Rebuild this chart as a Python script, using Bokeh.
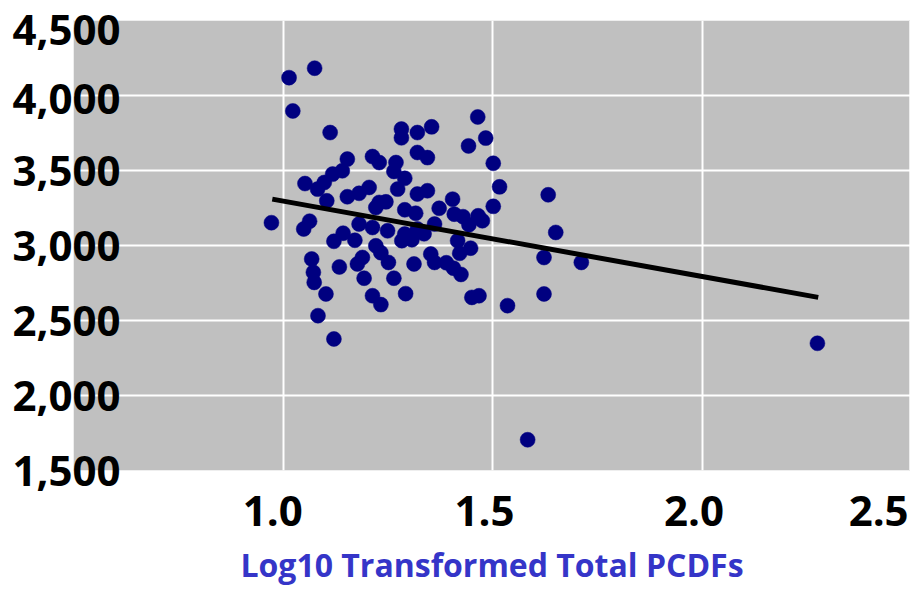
from bokeh.plotting import figure
from bokeh.models import FixedTicker
from bokeh.embed import file_html
from bokeh.resources import INLINE

# ---- data ----
log_pcdf = [0.972, 1.014, 1.075, 1.023, 1.112, 1.052, 1.082, 1.098, 1.118, 1.141,
            1.153, 1.104, 1.153, 1.181, 1.205, 1.063, 1.049, 1.121, 1.143, 1.171,
            1.181, 1.068, 1.072, 1.074, 1.134, 1.102, 1.083, 1.121,
            1.213, 1.229, 1.282, 1.282, 1.320, 1.354, 1.320, 1.344, 1.269, 1.264,
            1.290, 1.273, 1.320, 1.344, 1.229, 1.245, 1.221, 1.290, 1.316, 1.372,
            1.404, 1.408, 1.429, 1.443, 1.465, 1.475, 1.361, 1.213, 1.249, 1.283,
            1.307, 1.336, 1.416, 1.421, 1.447, 1.352, 1.361, 1.312, 1.233, 1.221,
            1.251, 1.189, 1.177, 1.193, 1.264, 1.292, 1.213, 1.233, 1.389, 1.406,
            1.424, 1.450, 1.467, 1.464, 1.483, 1.442, 1.320, 1.290,
            1.501, 1.516, 1.632, 1.501, 1.650, 1.622, 1.711, 1.535, 1.622, 1.583,
            2.274]
response = [3152, 4119, 4182, 3897, 3753, 3413, 3376, 3420, 3476, 3498,
            3576, 3298, 3325, 3348, 3387, 3162, 3110, 3028, 3082, 3035,
            3143, 2910, 2821, 2754, 2857, 2677, 2532, 2377,
            3593, 3553, 3776, 3718, 3753, 3791, 3620, 3586, 3553, 3494,
            3448, 3376, 3343, 3365, 3287, 3291, 3253, 3238, 3215, 3248,
            3309, 3209, 3192, 3138, 3198, 3165, 3143, 3120, 3098, 3032,
            3038, 3078, 3032, 2948, 2982, 2943, 2887, 2877, 2952, 2998,
            2887, 2920, 2877, 2782, 2782, 2679, 2665, 2606, 2885, 2849,
            2807, 2654, 2665, 3857, 3716, 3664, 3110, 3076,
            3548, 3391, 3338, 3261, 3087, 2920, 2887, 2599, 2677, 1705,
            2348]

trend_x = [0.974, 2.276]
trend_y = [3309, 2654]

grid_x_ticks = [1.0, 1.5, 2.0]
x_tick_labels = ["1.0", "1.5", "2.0", "2.5"]
grid_y_ticks = [1500, 2000, 2500, 3000, 3500, 4000, 4500]
y_tick_labels = ["1,500", "2,000", "2,500", "3,000", "3,500", "4,000", "4,500"]
x_label = "Log10 Transformed Total PCDFs"

# where the reference prints its tick labels (the x labels sit slightly left of
# the gridlines, "2.5" is pushed inward at the right edge, the top y labels sit
# a little below their gridlines)
x_label_positions = [0.975, 1.48, 1.98, 2.42]
y_label_positions = [1500, 2000, 2500, 3000, 3500, 3980, 4437]

X_START, X_END = 0.5, 2.496
Y_START, Y_END = 1500, 4500

FONT = "Open Sans"

p = figure(width=910, height=590, output_backend="svg", toolbar_location=None,
           x_range=(X_START, X_END), y_range=(Y_START, Y_END),
           min_border_left=73, min_border_right=0, min_border_top=20,
           min_border_bottom=120)

p.background_fill_color = "#C0C0C0"
p.border_fill_color = "white"
p.outline_line_color = "#EEEEEE"
p.outline_line_width = 1

# grid
p.xgrid.ticker = FixedTicker(ticks=grid_x_ticks)
p.ygrid.ticker = FixedTicker(ticks=grid_y_ticks)
for g in (p.xgrid, p.ygrid):
    g.grid_line_color = "white"
    g.grid_line_width = 2

# axes
p.xaxis.ticker = FixedTicker(ticks=x_label_positions)
p.xaxis.major_label_overrides = dict(zip(x_label_positions, x_tick_labels))
p.yaxis.ticker = FixedTicker(ticks=y_label_positions)
p.yaxis.major_label_overrides = dict(zip(y_label_positions, y_tick_labels))
for ax in (p.xaxis, p.yaxis):
    ax.axis_line_color = None
    ax.major_tick_line_color = None
    ax.minor_tick_line_color = None
    ax.major_tick_out = 0
    ax.major_tick_in = 0
    ax.minor_tick_out = 0
    ax.minor_tick_in = 0
    ax.major_label_text_font = FONT
    ax.major_label_text_font_style = "bold"
    ax.major_label_text_font_size = "42px"
    ax.major_label_text_color = "black"
    ax.major_label_text_line_height = 1.0

p.yaxis.major_label_standoff = -47
p.xaxis.major_label_standoff = 25

p.xaxis.axis_label = x_label
p.xaxis.axis_label_text_font = FONT
p.xaxis.axis_label_text_font_style = "bold"
p.xaxis.axis_label_text_font_size = "32px"
p.xaxis.axis_label_text_color = "#3535C8"
p.xaxis.axis_label_text_line_height = 1.0
p.xaxis.axis_label_standoff = 14

# data
p.scatter(log_pcdf, response, marker="circle", size=15,
          fill_color="#000080", line_color="#000080", line_width=0.5)
p.line(trend_x, trend_y, line_color="black", line_width=5)

open("out.html", "w").write(file_html(p, INLINE))
